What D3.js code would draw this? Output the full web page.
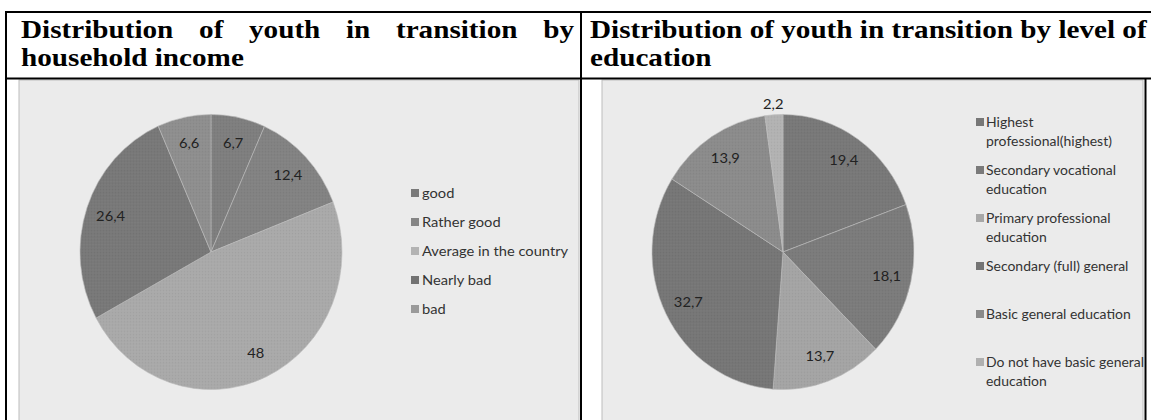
<!DOCTYPE html>
<html><head><meta charset="utf-8">
<script src="https://cdn.jsdelivr.net/npm/d3@7"></script>
<style>
html,body{margin:0;padding:0;background:#fff;}
svg{display:block;}
</style></head>
<body>
<svg id="c" width="1151" height="420"></svg>
<script>
// ---- data ----
const incomeCategories = ["good", "Rather good", "Average in the country", "Nearly bad", "bad"];
const incomeValues = [6.7, 12.4, 48, 26.4, 6.6];
const incomeLabels = ["6,7", "12,4", "48", "26,4", "6,6"];
const incomeColors = ["#7e7e7e", "#828282", "#a9a9a9", "#787878", "#8e8e8e"];
const incomeLegendColors = ["#7a7a7a", "#858585", "#b3b3b3", "#727272", "#9a9a9a"];

const eduCategories = [["Highest", "professional(highest)"], ["Secondary vocational", "education"], ["Primary professional", "education"], ["Secondary (full) general"], ["Basic general education"], ["Do not have basic general", "education"]];
const eduValues = [19.4, 18.1, 13.7, 32.7, 13.9, 2.2];
const eduLabels = ["19,4", "18,1", "13,7", "32,7", "13,9", "2,2"];
const eduColors = ["#787878", "#7b7b7b", "#a4a4a4", "#767676", "#8b8b8b", "#b2b2b2"];
const eduLegendColors = ["#777777", "#7a7a7a", "#a8a8a8", "#747474", "#8a8a8a", "#b0b0b0"];

const titles = [["Distribution of youth in transition by", "household income"], ["Distribution of youth in transition by level of", "education"]];

const svg = d3.select("#c");
const labelFont = "Lato, 'Open Sans', sans-serif";
const SX = 1.13; // horizontal stretch of small text
const SXR = 1.075; // right legend (fits up to the border)

// chart areas
svg.append("rect").attr("x", 19).attr("y", 80).attr("width", 560).attr("height", 345)
  .attr("fill", "#ebebeb").attr("stroke", "#bdbdbd").attr("stroke-width", 1);
svg.append("rect").attr("x", 602).attr("y", 80).attr("width", 541).attr("height", 345)
  .attr("fill", "#ebebeb").attr("stroke", "#bdbdbd").attr("stroke-width", 1);

const defs = svg.append("defs");
const pat = defs.append("pattern").attr("id", "dots").attr("width", 3).attr("height", 3).attr("patternUnits", "userSpaceOnUse");
pat.append("rect").attr("x", 0).attr("y", 0).attr("width", 1).attr("height", 1).attr("fill", "rgba(0,0,0,0.05)");
pat.append("rect").attr("x", 1.5).attr("y", 1.5).attr("width", 1).attr("height", 1).attr("fill", "rgba(255,255,255,0.05)");

function drawPie(cx, cy, r, ky, values, labels, colors, smallOutside) {
  const g = svg.append("g").attr("transform", `translate(${cx},${cy})`);
  const gp = g.append("g").attr("transform", `scale(1,${ky})`);
  const pie = d3.pie().sort(null).value(d => d);
  const arcs = pie(values);
  const arc = d3.arc().innerRadius(0).outerRadius(r);
  gp.selectAll("path.s").data(arcs).join("path").attr("class", "s")
    .attr("d", arc).attr("fill", (d, i) => colors[i])
    .attr("stroke", "#bcbcbc").attr("stroke-width", 0.6);
  gp.selectAll("path.t").data(arcs).join("path").attr("class", "t")
    .attr("d", arc).attr("fill", "url(#dots)");
  const inArc = d3.arc().innerRadius(r * 0.81).outerRadius(r * 0.81);
  const outArc = d3.arc().innerRadius(r * 1.075).outerRadius(r * 1.075);
  g.selectAll("text").data(arcs).join("text")
    .attr("transform", d => {
      const c = (smallOutside && d.value < 3) ? outArc.centroid(d) : inArc.centroid(d);
      return `translate(${c[0]},${c[1] * ky}) scale(${SX},1)`;
    })
    .attr("text-anchor", "middle").attr("dy", "0.35em")
    .attr("font-family", labelFont).attr("font-size", 13).attr("fill", "#222")
    .text((d, i) => labels[i]);
}

drawPie(211, 252, 131, 1.05, incomeValues, incomeLabels, incomeColors, false);
drawPie(783, 252, 131, 1.05, eduValues, eduLabels, eduColors, true);

// legend left
const yL = d3.scalePoint().domain(incomeCategories).range([193, 309]);
const lg1 = svg.append("g");
incomeCategories.forEach((c, i) => {
  lg1.append("rect").attr("x", 411).attr("y", yL(c) - 4).attr("width", 8).attr("height", 8).attr("fill", incomeLegendColors[i]);
  lg1.append("text").attr("transform", `translate(422,${yL(c)}) scale(${SX},1)`).attr("dy", "0.35em")
    .attr("font-family", labelFont).attr("font-size", 13).attr("fill", "#333").text(c);
});

// legend right
const yR = d3.scalePoint().domain(d3.range(eduCategories.length)).range([122, 362]);
const lg2 = svg.append("g");
eduCategories.forEach((lines, i) => {
  lg2.append("rect").attr("x", 976).attr("y", yR(i) - 4).attr("width", 8).attr("height", 8).attr("fill", eduLegendColors[i]);
  lines.forEach((t, j) => {
    lg2.append("text").attr("transform", `translate(986,${yR(i) + j * 19}) scale(${SXR},1)`).attr("dy", "0.35em")
      .attr("font-family", labelFont).attr("font-size", 13).attr("fill", "#333").text(t);
  });
});

// titles
const titleFont = "'Liberation Serif', 'Times New Roman', serif";
const TS = 25;
function mk(text, y) {
  return svg.append("text").attr("y", y).attr("x", 0)
    .attr("font-family", titleFont).attr("font-weight", "bold").attr("font-size", TS).attr("fill", "#000").text(text);
}
const probe = mk(titles[1][0], -100);
const TX = (1147 - 590) / probe.node().getComputedTextLength();
probe.remove();
function place(n, x, y) { n.attr("y", null).attr("transform", `translate(${x},${y}) scale(${TX},1)`); }
function drawTitle(lines, x0, x1, justify) {
  lines.forEach((line, li) => {
    const y = 38 + li * 28;
    if (justify && li === 0) {
      const words = line.split(" ");
      const nodes = words.map(w => mk(w, 0));
      const widths = nodes.map(n => n.node().getComputedTextLength() * TX);
      const gap = (x1 - x0 - d3.sum(widths)) / (words.length - 1);
      let x = x0;
      nodes.forEach((n, k) => { place(n, x, y); x += widths[k] + gap; });
    } else {
      place(mk(line, 0), x0, y);
    }
  });
}
drawTitle(titles[0], 21, 574, true);
drawTitle(titles[1], 590, 1147, false);

// table lines
const tlines = [
  [5, 12, 1151, 12], [5, 78.5, 1151, 78.5], [6, 11, 6, 420], [581, 11, 581, 420], [1145.5, 79, 1145.5, 420]
];
svg.selectAll("line.tb").data(tlines).join("line").attr("class", "tb")
  .attr("x1", d => d[0]).attr("y1", d => d[1]).attr("x2", d => d[2]).attr("y2", d => d[3])
  .attr("stroke", "#000").attr("stroke-width", 2);
</script>
</body></html>
